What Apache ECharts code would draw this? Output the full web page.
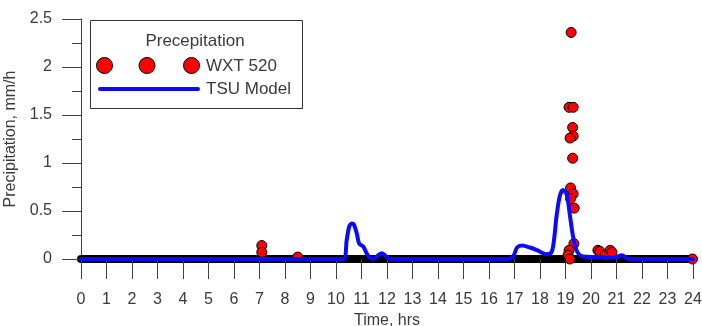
<!DOCTYPE html>
<html>
<head>
<meta charset="utf-8">
<script src="https://cdn.jsdelivr.net/npm/echarts@6/dist/echarts.min.js"></script>
<style>
html,body{margin:0;padding:0;background:#fff;}
#chart{width:702px;height:326px;}
</style>
</head>
<body>
<div id="chart"></div>
<script>
// ---- data ----
var xTicks = [0,1,2,3,4,5,6,7,8,9,10,11,12,13,14,15,16,17,18,19,20,21,22,23,24];
var yTicks = [0, 0.5, 1, 1.5, 2, 2.5];

// WXT 520 measured precipitation (time in hours, value in mm/h)
var wxtTime  = [7.09, 7.09, 8.5, 19.22, 19.14, 19.30, 19.28, 19.30, 19.18, 19.28, 19.20, 19.30, 19.20, 19.34, 19.33, 19.14, 19.10, 19.17, 20.27, 20.35, 20.55, 20.75, 20.82, 23.98];
var wxtValue = [0.14, 0.07, 0.02, 2.36, 1.58, 1.58, 1.37, 1.28, 1.26, 1.05, 0.74, 0.68, 0.63, 0.53, 0.16, 0.09, 0.04, 0.00, 0.09, 0.08, 0.04, 0.09, 0.07, 0.00];

// TSU Model
var tsuTime  = [0, 10.28, 10.42, 10.52, 10.62, 10.70, 10.81, 10.91, 11.07, 11.20, 11.33, 11.46, 11.66, 11.79, 11.95, 12.10, 16.70, 16.95, 17.10, 17.30, 17.60, 17.90, 18.25, 18.45, 18.55, 18.65, 18.78, 18.90, 19.05, 19.18, 19.30, 19.45, 19.70, 20.30, 20.60, 21.00, 21.20, 21.50, 24];
var tsuValue = [0, 0, 0.20, 0.34, 0.37, 0.36, 0.27, 0.16, 0.13, 0.06, 0.01, 0, 0.04, 0.06, 0.03, 0, 0, 0.03, 0.12, 0.14, 0.12, 0.09, 0.05, 0.07, 0.20, 0.45, 0.66, 0.72, 0.67, 0.44, 0.23, 0.08, 0.025, 0.02, 0.01, 0.02, 0.04, 0, 0];

function pairs(xs, ys){ var out=[]; for(var i=0;i<xs.length;i++) out.push([xs[i], ys[i]]); return out; }

var FONT = 'Liberation Sans, Arial, sans-serif';
var TXT = '#3a3a3a';
var AX = '#404040';

var chart = echarts.init(document.getElementById('chart'), null, {renderer:'canvas'});
chart.setOption({
  animation: false,
  backgroundColor: '#fff',
  grid: {left: 81, right: 9, top: 19, bottom: 67, containLabel: false, outerBoundsMode: 'none'},
  xAxis: {
    type: 'value', min: xTicks[0], max: xTicks[xTicks.length-1], interval: 1,
    name: 'Time, hrs', nameLocation: 'middle', nameGap: 50,
    nameTextStyle: {fontFamily: FONT, fontSize: 16, color: TXT},
    axisLine: {show: true, lineStyle: {color: '#000', width: 8, cap: 'round'}},
    axisTick: {show: true, length: 20, lineStyle: {color: AX, width: 1}},
    axisLabel: {margin: 33, fontFamily: FONT, fontSize: 16, color: TXT},
    splitLine: {show: false}
  },
  yAxis: {
    type: 'value', min: yTicks[0], max: yTicks[yTicks.length-1], interval: 0.5,
    name: 'Precipitation, mm/h', nameLocation: 'middle', nameGap: 57, nameRotate: 90,
    nameTextStyle: {fontFamily: FONT, fontSize: 16, color: TXT},
    axisLine: {show: true, lineStyle: {color: AX, width: 1}},
    axisTick: {show: true, length: 19, lineStyle: {color: AX, width: 1}},
    minorTick: {show: true, splitNumber: 2, length: 9, lineStyle: {color: AX, width: 1}},
    axisLabel: {margin: 29, fontFamily: FONT, fontSize: 16, color: TXT,
      formatter: function(v){ return String(v); }},
    splitLine: {show: false}
  },
  series: [
    {
      name: 'WXT 520', type: 'scatter', z: 2,
      symbol: 'circle', symbolSize: 10,
      itemStyle: {color: '#ff0000', borderColor: '#000', borderWidth: 1, opacity: 1},
      data: pairs(wxtTime, wxtValue)
    },
    {
      name: 'TSU Model', type: 'line', z: 3,
      showSymbol: false, symbol: 'none', smooth: 0.3,
      lineStyle: {color: '#0a0aff', width: 4, join: 'round', cap: 'round'},
      data: pairs(tsuTime, tsuValue)
    }
  ],
  graphic: [
    {type: 'rect', shape: {x: 90.5, y: 20.5, width: 212, height: 88}, style: {fill: '#fff', stroke: '#333', lineWidth: 1}, z: 10},
    {type: 'text', x: 195, y: 41, style: {text: 'Precepitation', font: '17px ' + FONT, fill: TXT, align: 'center', verticalAlign: 'middle'}, z: 11},
    {type: 'circle', shape: {cx: 104.5, cy: 65.5, r: 8}, style: {fill: '#ff0000', stroke: '#000', lineWidth: 1}, z: 11},
    {type: 'circle', shape: {cx: 147, cy: 65.5, r: 8}, style: {fill: '#ff0000', stroke: '#000', lineWidth: 1}, z: 11},
    {type: 'circle', shape: {cx: 191.5, cy: 65.5, r: 8}, style: {fill: '#ff0000', stroke: '#000', lineWidth: 1}, z: 11},
    {type: 'text', x: 206, y: 66, style: {text: 'WXT 520', font: '17px ' + FONT, fill: TXT, align: 'left', verticalAlign: 'middle'}, z: 11},
    {type: 'line', shape: {x1: 100, y1: 89, x2: 198, y2: 89}, style: {stroke: '#0a0aff', lineWidth: 4, lineCap: 'round'}, z: 11},
    {type: 'text', x: 206, y: 89, style: {text: 'TSU Model', font: '17px ' + FONT, fill: TXT, align: 'left', verticalAlign: 'middle'}, z: 11}
  ]
});
</script>
</body>
</html>
